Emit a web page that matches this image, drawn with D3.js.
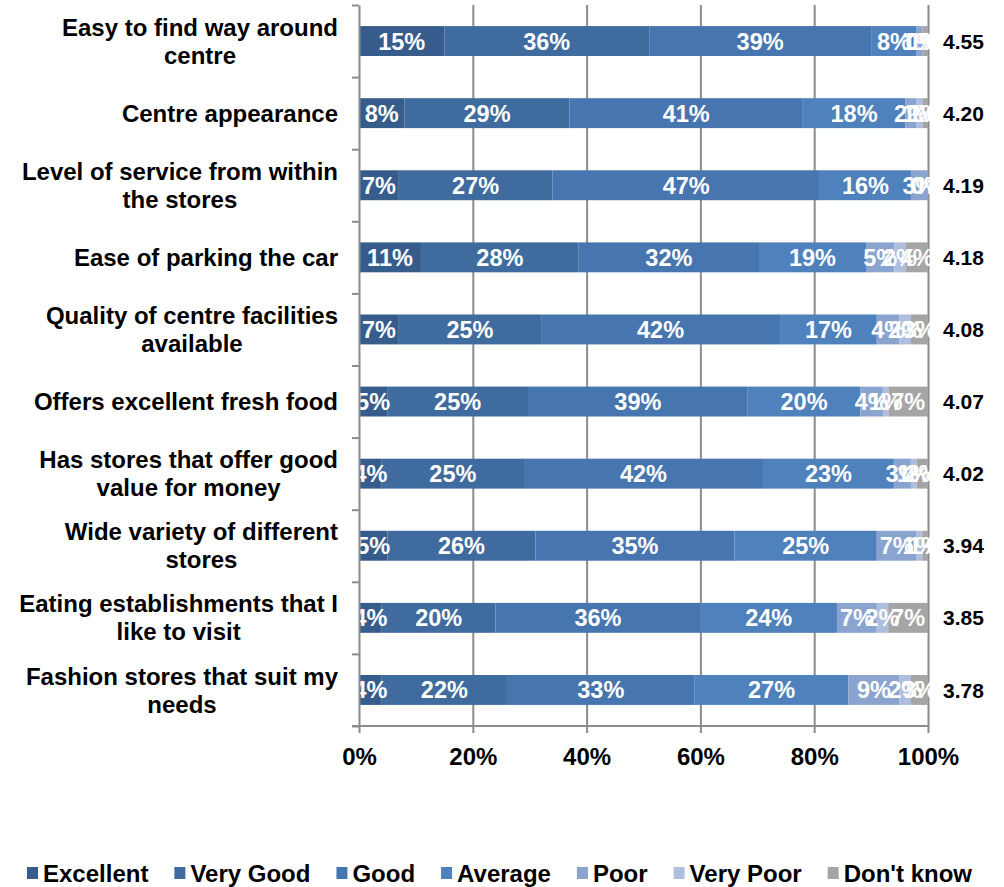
<!DOCTYPE html>
<html>
<head>
<meta charset="utf-8">
<script src="https://d3js.org/d3.v7.min.js"></script>
<style>
  body { margin: 0; background: #fff; }
  text { font-family: "Liberation Sans", Arial, sans-serif; font-weight: bold; }
</style>
</head>
<body>
<div id="chart"></div>
<script>

// Categories (top to bottom) and series values, in %
var categories = [
  ["Easy to find way around", "centre"],
  ["Centre appearance"],
  ["Level of service from within", "the stores"],
  ["Ease of parking the car"],
  ["Quality of centre facilities", "available"],
  ["Offers excellent fresh food"],
  ["Has stores that offer good", "value for money"],
  ["Wide variety of different", "stores"],
  ["Eating establishments that I", "like to visit"],
  ["Fashion stores that suit my", "needs"]
];
var excellent = [15, 8, 7, 11, 7, 5, 4, 5, 4, 4];
var veryGood  = [36, 29, 27, 28, 25, 25, 25, 26, 20, 22];
var good      = [39, 41, 47, 32, 42, 39, 42, 35, 36, 33];
var average   = [8, 18, 16, 19, 17, 20, 23, 25, 24, 27];
var poor      = [1, 2, 3, 5, 4, 4, 3, 7, 7, 9];
var veryPoor  = [0, 1, 0, 2, 2, 1, 1, 1, 2, 2];
var dontKnow  = [1, 1, 0, 4, 3, 7, 2, 1, 7, 3];
var meanScores = ["4.55", "4.20", "4.19", "4.18", "4.08", "4.07", "4.02", "3.94", "3.85", "3.78"];
var seriesNames = ["Excellent", "Very Good", "Good", "Average", "Poor", "Very Poor", "Don't know"];
var seriesColors = ["#365c8b", "#3f6b9f", "#4775b0", "#4f81bd", "#8aa4cf", "#adbedf", "#a5a5a5"];
var xTicks = [0, 0.2, 0.4, 0.6, 0.8, 1];

var seriesValues = [excellent, veryGood, good, average, poor, veryPoor, dontKnow];

// table for d3.stack
var rows = categories.map(function(c, i) {
  var r = { idx: i };
  seriesNames.forEach(function(s, j) { r[s] = seriesValues[j][i]; });
  return r;
});

var W = 1004, H = 887;
var plotLeft = 359, plotRight = 928, plotTop = 5, plotBottom = 726;

var svg = d3.select("#chart").append("svg")
    .attr("width", W)
    .attr("height", H);

var x = d3.scaleLinear().domain([0, 1]).range([plotLeft, plotRight]);
var y = d3.scaleBand().domain(d3.range(categories.length)).range([plotTop, plotBottom])
    .paddingInner(0.585).paddingOuter(0.2925);
var yEdge = d3.scaleLinear().domain([0, categories.length]).range([plotTop, plotBottom]);

// gridlines
svg.append("g")
    .attr("class", "grid")
    .attr("transform", "translate(0," + plotBottom + ")")
    .call(d3.axisBottom(x).tickValues(xTicks.slice(1)).tickSize(-(plotBottom - plotTop)).tickFormat(""))
    .call(function(g) {
      g.select(".domain").remove();
      g.selectAll("line").attr("stroke", "#8c8c8c").attr("stroke-width", 2);
    });

// stacked bars
var stack = d3.stack().keys(seriesNames).offset(d3.stackOffsetExpand);
var layers = stack(rows);

var barG = svg.append("g");
layers.forEach(function(layer, j) {
  barG.selectAll(".s" + j)
    .data(layer)
    .enter().append("rect")
      .attr("x", function(d) { return x(d[0]); })
      .attr("y", function(d) { return y(d.data.idx); })
      .attr("width", function(d) { return x(d[1]) - x(d[0]); })
      .attr("height", y.bandwidth())
      .attr("fill", seriesColors[j]);
});

// segment labels (clipped to the plot area)
svg.append("clipPath").attr("id", "plotclip")
  .append("rect").attr("x", plotLeft).attr("y", 0).attr("width", plotRight - plotLeft + 2).attr("height", H);

var labG = svg.append("g").attr("clip-path", "url(#plotclip)");
layers.forEach(function(layer, j) {
  labG.selectAll(".l" + j)
    .data(layer)
    .enter().append("text")
      .attr("x", function(d) { return x((d[0] + d[1]) / 2); })
      .attr("y", function(d) { return y(d.data.idx) + y.bandwidth() / 2; })
      .attr("dy", "0.36em")
      .attr("text-anchor", "middle")
      .attr("fill", "#fff")
      .style("font-size", "23.5px")
      .text(function(d) { return d.data[layer.key] + "%"; });
});

// left axis with ticks at category boundaries
svg.append("g")
    .attr("transform", "translate(" + plotLeft + ",0)")
    .call(d3.axisLeft(yEdge).ticks(categories.length).tickSizeInner(7).tickSizeOuter(0).tickFormat(""))
    .call(function(g) {
      g.selectAll("line, path").attr("stroke", "#8c8c8c").attr("stroke-width", 2);
    });

// bottom axis
svg.append("g")
    .attr("transform", "translate(0," + plotBottom + ")")
    .call(d3.axisBottom(x).tickValues(xTicks).tickFormat(d3.format(".0%")).tickSizeInner(7).tickSizeOuter(0).tickPadding(15))
    .call(function(g) {
      g.select(".domain").attr("d", "M" + (plotLeft - 7) + ",0H" + plotRight);
      g.selectAll("line, path").attr("stroke", "#8c8c8c").attr("stroke-width", 2);
      g.selectAll("text").attr("fill", "#000").style("font-size", "24px")
        .style("font-family", "'Liberation Sans', Arial, sans-serif");
    });

// category labels (centred lines, block right aligned)
var catG = svg.append("g");
categories.forEach(function(lines, i) {
  var cy = y(i) + y.bandwidth() / 2;
  var t = catG.append("text").style("font-size", "24px").attr("fill", "#000");
  var n = lines.length;
  lines.forEach(function(ln, k) {
    t.append("tspan").text(ln)
      .attr("y", cy + (k - (n - 1) / 2) * 28)
      .attr("dy", "0.36em");
  });
  var maxW = 0;
  t.selectAll("tspan").each(function() { maxW = Math.max(maxW, this.getComputedTextLength()); });
  t.attr("text-anchor", "middle");
  t.selectAll("tspan").attr("x", 338 - maxW / 2);
});

// mean scores
svg.append("g").selectAll("text")
  .data(meanScores)
  .enter().append("text")
    .attr("x", 943)
    .attr("y", function(d, i) { return y(i) + y.bandwidth() / 2; })
    .attr("dy", "0.36em")
    .style("font-size", "21px")
    .attr("fill", "#000")
    .text(function(d) { return d; });

// legend
var leg = svg.append("g");
var lx = 27, ly = 873;
seriesNames.forEach(function(s, j) {
  leg.append("rect").attr("x", lx).attr("y", ly - 6).attr("width", 11).attr("height", 12)
    .attr("fill", seriesColors[j]);
  var t = leg.append("text").attr("x", lx + 16).attr("y", ly).attr("dy", "0.36em")
    .style("font-size", "24px").attr("fill", "#000").text(s);
  lx += 16 + t.node().getComputedTextLength() + 26;
});

</script>
</body>
</html>
